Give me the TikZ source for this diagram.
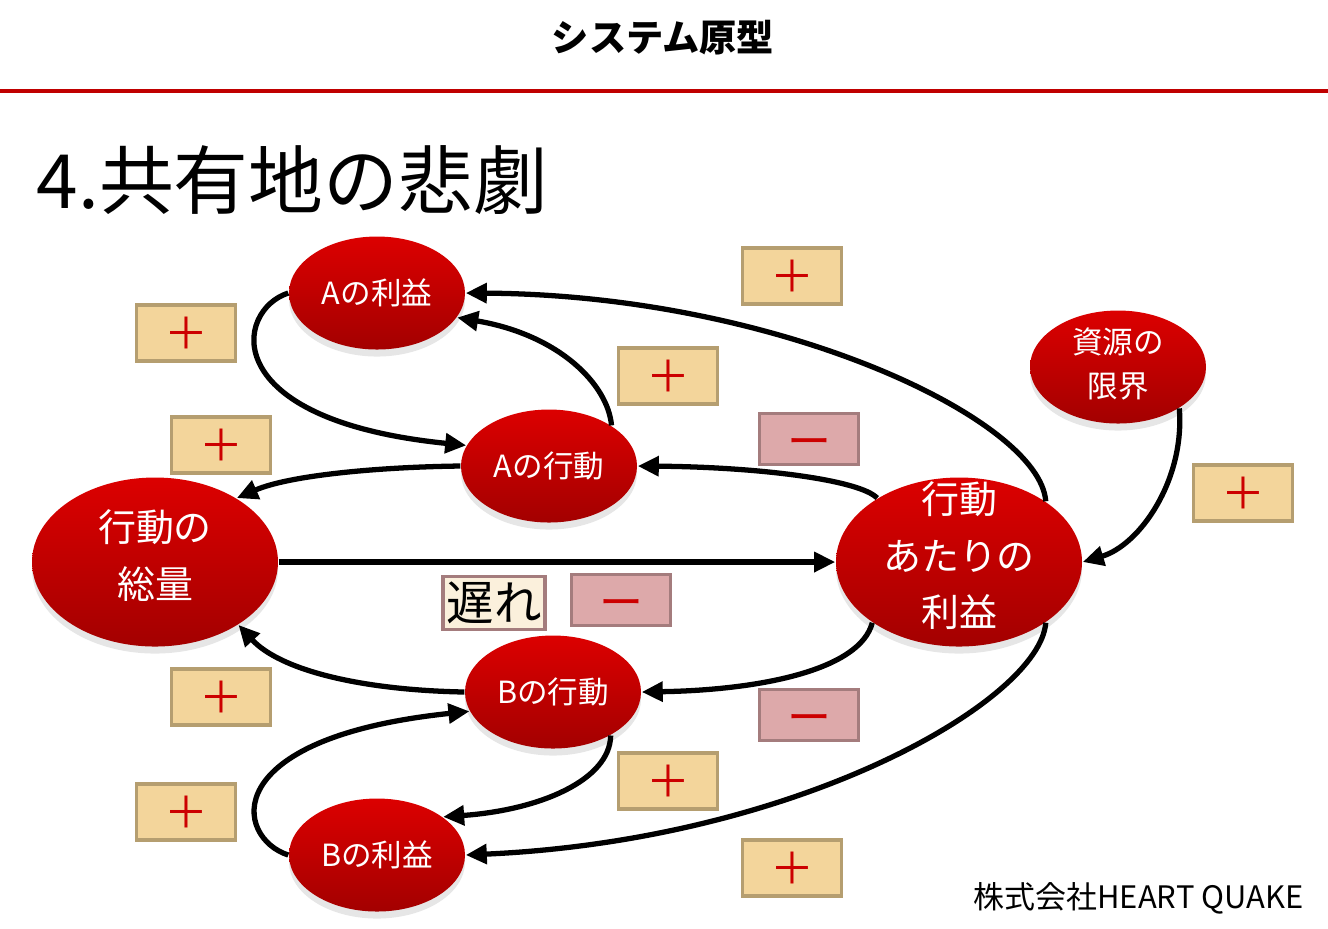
\documentclass[tikz,border=0pt]{standalone}
\usepackage{fontspec}
\setmainfont{Noto Sans CJK JP}
\usepackage{tikz}
\usetikzlibrary{arrows.meta}
\usetikzlibrary{shapes.geometric}
\usetikzlibrary{shadows}
\definecolor{redtop}{HTML}{DC0000}
\definecolor{redbot}{HTML}{A30000}
\definecolor{plusfill}{HTML}{F3D59B}
\definecolor{plusline}{HTML}{B59E70}
\definecolor{minusfill}{HTML}{DDA9AA}
\definecolor{minusline}{HTML}{A47C7D}
\definecolor{delayfill}{HTML}{FBF0DC}
\definecolor{signred}{HTML}{CC0000}
\definecolor{rulered}{HTML}{C00000}
\newcommand{\minussign}{\raisebox{-2.5pt}[\height][\depth]{ー}}

\begin{document}
\begin{tikzpicture}[
    loopvar/.style={ellipse, top color=redtop, bottom color=redbot, text=white, align=center,
      drop shadow={opacity=0.2, shadow xshift=0pt, shadow yshift=-2pt}},
    smallvar/.style={loopvar, inner sep=0pt, minimum width=1.76cm, minimum height=1.13cm,
      font=\fontsize{8.7}{12.5}\selectfont},
    bigvar/.style={loopvar, inner sep=-6pt, text depth=4.5pt, minimum width=2.46cm, minimum height=1.69cm,
      font=\fontsize{10.8}{16}\selectfont},
    signbox/.style={rectangle, minimum width=0.99cm, minimum height=0.51cm, line width=1.1pt,
      text=signred, font=\fontsize{12.5}{12.5}\selectfont},
    plusbox/.style={signbox, fill=plusfill, draw=plusline},
    minusbox/.style={signbox, fill=minusfill, draw=minusline},
    link/.style={line width=1.5pt, -{Triangle[length=6pt,width=5.5pt]}}
  ]
      \useasboundingbox (0cm,0cm) rectangle (13.28cm,-9.28cm);
      \node[font=\fontsize{10.6}{12}\selectfont\bfseries] (header) at (6.63cm,-0.38cm) {システム原型};
      \draw[rulered, line width=0.9pt] (0cm,-0.91cm) -- (13.28cm,-0.91cm);
      \node[anchor=west, inner sep=0pt, font=\fontsize{21.3}{24}\selectfont] (title) at (0.36cm,-1.80cm) {4.共有地の悲劇};
      \node[anchor=east, inner sep=0pt, font=\fontsize{8.8}{10}\selectfont] (credit) at (13.04cm,-8.98cm) {株式会社HEART QUAKE};

      \node[smallvar] (aprofit) at (3.77cm,-2.93cm) {Aの利益};
      \node[smallvar] (aact) at (5.49cm,-4.66cm) {Aの行動};
      \node[smallvar] (bact) at (5.53cm,-6.92cm) {Bの行動};
      \node[smallvar] (bprofit) at (3.77cm,-8.55cm) {Bの利益};
      \node[smallvar, text depth=2.5pt] (limit) at (11.18cm,-3.67cm) {資源の\\限界};
      \node[bigvar] (total) at (1.55cm,-5.62cm) {行動の\\総量};
      \node[bigvar] (perprofit) at (9.59cm,-5.62cm) {行動\\あたりの\\利益};

      \node[plusbox] (p1) at (1.86cm,-3.33cm) {＋};
      \node[plusbox] (p2) at (2.21cm,-4.45cm) {＋};
      \node[plusbox] (p3) at (7.92cm,-2.76cm) {＋};
      \node[plusbox] (p4) at (6.68cm,-3.76cm) {＋};
      \node[minusbox] (m1) at (8.09cm,-4.39cm) {\minussign};
      \node[plusbox] (p5) at (12.43cm,-4.93cm) {＋};
      \node[signbox, fill=delayfill, draw=minusline, text=black, minimum width=1.0cm, minimum height=0.53cm,
        font=\fontsize{13.5}{13.5}\selectfont, inner sep=1pt] (delay) at (4.94cm,-6.03cm) {遅れ};
      \node[minusbox] (m2) at (6.21cm,-6.00cm) {\minussign};
      \node[plusbox] (p6) at (2.21cm,-6.97cm) {＋};
      \node[minusbox] (m3) at (8.09cm,-7.15cm) {\minussign};
      \node[plusbox] (p7) at (6.68cm,-7.81cm) {＋};
      \node[plusbox] (p8) at (1.86cm,-8.12cm) {＋};
      \node[plusbox] (p9) at (7.92cm,-8.68cm) {＋};

      \draw[link] (aprofit.west) .. controls (2.35cm,-3.10cm) and (2.15cm,-4.20cm) .. (aact.166);
      \draw[link] (aact.33) .. controls (6.08cm,-3.85cm) and (5.60cm,-3.35cm) .. (aprofit.343);
      \draw[link] (perprofit.35) .. controls (10.40cm,-4.20cm) and (7.80cm,-2.95cm) .. (aprofit.east);
      \draw[link] (perprofit.142) .. controls (8.60cm,-4.80cm) and (7.60cm,-4.67cm) .. (aact.east);
      \draw[link] (aact.west) .. controls (3.80cm,-4.67cm) and (2.90cm,-4.75cm) .. (total.38);
      \draw[link] (total.east) -- (perprofit.west);
      \draw[link] (perprofit.215) .. controls (8.60cm,-6.70cm) and (7.60cm,-6.90cm) .. (bact.east);
      \draw[link] (bact.west) .. controls (3.60cm,-6.90cm) and (2.80cm,-6.70cm) .. (total.323);
      \draw[link] (bprofit.west) .. controls (2.35cm,-8.38cm) and (2.15cm,-7.38cm) .. (bact.193);
      \draw[link] (bact.323) .. controls (6.10cm,-7.80cm) and (5.40cm,-8.10cm) .. (bprofit.30);
      \draw[link] (perprofit.325) .. controls (10.40cm,-7.00cm) and (8.00cm,-8.40cm) .. (bprofit.east);
      \draw[link] (limit.326) .. controls (11.85cm,-4.80cm) and (11.40cm,-5.45cm) .. (perprofit.east);
\end{tikzpicture}
\end{document}
